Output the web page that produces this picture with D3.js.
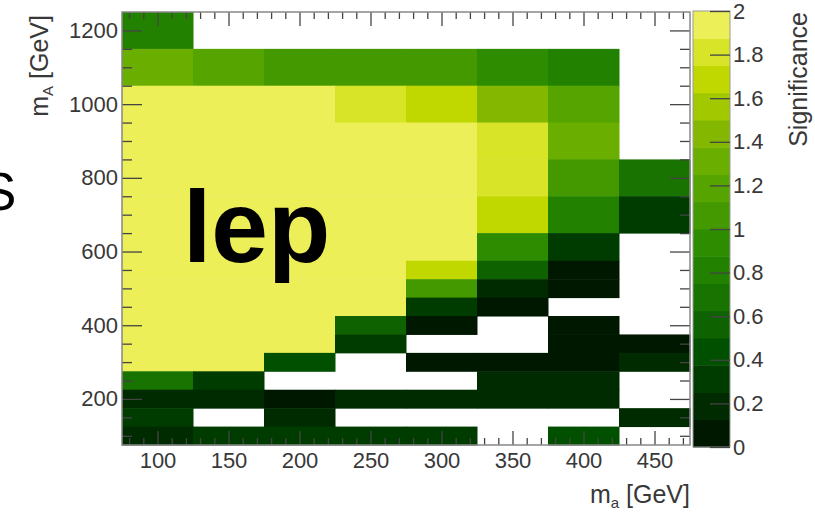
<!DOCTYPE html>
<html>
<head>
<meta charset="utf-8">
<script src="https://cdn.jsdelivr.net/npm/d3@7"></script>
<style>
  body { margin: 0; background: #fff; }
  svg { display: block; font-family: "Liberation Sans", Arial, Helvetica, sans-serif; }
  .ax text { fill: #383838; font-size: 22px; }
  .ax path { display: none; }
  .ax line { stroke: #444; stroke-width: 1.3; }
</style>
</head>
<body>
<div id="chart"></div>
<script>
// m_a columns (GeV) and their bin edges
const ma = [100, 150, 200, 250, 300, 350, 400, 450];
const maEdges = [75, 125, 175, 225, 275, 325, 375, 425, 475];
// m_A rows, top to bottom, and their edges
const mA = [1200, 1100, 1000, 900, 800, 700, 600, 550, 500, 450, 400, 350, 300, 250, 200, 150, 100];
const mAEdges = [1250, 1150, 1050, 950, 850, 750, 650, 575, 525, 475, 425, 375, 325, 275, 225, 175, 125, 75];

// significance per row (null = empty cell)
const sig = [
  [0.81, null, null, null, null, null, null, null],
  [1.33, 1.19, 1.06, 1.06, 1.06, 0.94, 0.81, null],
  [2.0, 2.0, 2.0, 1.81, 1.69, 1.44, 1.19, null],
  [2.0, 2.0, 2.0, 2.0, 2.0, 1.81, 1.33, null],
  [2.0, 2.0, 2.0, 2.0, 2.0, 1.81, 1.06, 0.69],
  [2.0, 2.0, 2.0, 2.0, 2.0, 1.69, 0.81, 0.31],
  [2.0, 2.0, 2.0, 2.0, 2.0, 0.94, 0.31, null],
  [2.0, 2.0, 2.0, 2.0, 1.69, 0.6, 0.06, null],
  [2.0, 2.0, 2.0, 2.0, 1.06, 0.19, 0.06, null],
  [2.0, 2.0, 2.0, 2.0, 0.31, 0.06, null, null],
  [2.0, 2.0, 2.0, 0.56, 0.06, null, 0.06, null],
  [2.0, 2.0, 2.0, 0.31, null, null, 0.06, 0.06],
  [2.0, 2.0, 0.44, null, 0.06, 0.06, 0.06, 0.19],
  [0.69, 0.31, null, null, null, 0.19, 0.19, null],
  [0.19, 0.19, 0.06, 0.19, 0.19, 0.19, 0.19, null],
  [0.31, null, 0.19, null, null, null, null, 0.19],
  [0.19, 0.31, 0.31, 0.31, 0.31, null, 0.38, null]
];

const palette = ["#001800", "#002a00", "#003c00", "#005000", "#0f6200", "#187300", "#228200", "#2e8c00",
                 "#449800", "#56a400", "#6aae00", "#84b800", "#a2c800", "#c0d800", "#d8e428", "#ecef58"];
const zTicks = [0, 0.2, 0.4, 0.6, 0.8, 1, 1.2, 1.4, 1.6, 1.8, 2];
const xTicks = [100, 150, 200, 250, 300, 350, 400, 450];
const yTicks = [200, 400, 600, 800, 1000, 1200];

const W = 815, H = 515;
const L = 122, R = 690, T = 12, B = 445;

let svg = d3.select("#chart").append("svg").attr("width", W).attr("height", H);

let x = d3.scaleLinear().domain([75, 475]).range([L, R]);
let y = d3.scaleLinear().domain([75, 1250]).range([B, T]);
let color = d3.scaleQuantize().domain([0, 2]).range(palette);

// cells
let cells = [];
sig.forEach((row, i) => row.forEach((v, j) => {
    if (v !== null) cells.push({i, j, v});
}));
svg.append("g").selectAll("rect").data(cells).join("rect")
   .attr("x", d => x(maEdges[d.j]))
   .attr("y", d => y(mAEdges[d.i]))
   .attr("width", d => x(maEdges[d.j + 1]) - x(maEdges[d.j]) + 0.5)
   .attr("height", d => y(mAEdges[d.i + 1]) - y(mAEdges[d.i]) + 0.5)
   .attr("fill", d => color(Math.min(d.v, 1.999)));

// big overlay text from the slide
svg.append("text").attr("x", 183).attr("y", 262)
   .attr("font-size", 102).attr("font-weight", "bold").attr("fill", "#000")
   .text("lep");
svg.append("text").attr("x", -19).attr("y", 210)
   .attr("font-size", 53).attr("fill", "#000")
   .text("S");

// axes
let minorX = d3.range(80, 475, 10).filter(v => v % 50 !== 0);
let minorY = d3.range(100, 1250, 50).filter(v => v % 200 !== 0);

svg.append("g").attr("class", "ax").attr("transform", `translate(0,${B})`)
   .call(d3.axisBottom(x).tickValues(xTicks).tickSizeInner(-14).tickSizeOuter(0).tickPadding(7));
svg.append("g").attr("class", "ax").attr("transform", `translate(0,${B})`)
   .call(d3.axisBottom(x).tickValues(minorX).tickSizeInner(-7).tickSizeOuter(0).tickFormat(""));
svg.append("g").attr("class", "ax").attr("transform", `translate(0,${T})`)
   .call(d3.axisTop(x).tickValues(xTicks).tickSizeInner(-14).tickSizeOuter(0).tickFormat(""));
svg.append("g").attr("class", "ax").attr("transform", `translate(0,${T})`)
   .call(d3.axisTop(x).tickValues(minorX).tickSizeInner(-7).tickSizeOuter(0).tickFormat(""));

svg.append("g").attr("class", "ax").attr("transform", `translate(${L},0)`)
   .call(d3.axisLeft(y).tickValues(yTicks).tickSizeInner(-20).tickSizeOuter(0).tickPadding(4)
         .tickFormat(d3.format("d")));
svg.append("g").attr("class", "ax").attr("transform", `translate(${L},0)`)
   .call(d3.axisLeft(y).tickValues(minorY).tickSizeInner(-10).tickSizeOuter(0).tickFormat(""));
svg.append("g").attr("class", "ax").attr("transform", `translate(${R},0)`)
   .call(d3.axisRight(y).tickValues(yTicks).tickSizeInner(-20).tickSizeOuter(0).tickFormat(""));
svg.append("g").attr("class", "ax").attr("transform", `translate(${R},0)`)
   .call(d3.axisRight(y).tickValues(minorY).tickSizeInner(-10).tickSizeOuter(0).tickFormat(""));

svg.append("rect").attr("x", L).attr("y", T).attr("width", R - L).attr("height", B - T)
   .attr("fill", "none").attr("stroke", "#888").attr("stroke-width", 1.5);

// colour bar
const cbL = 693, cbR = 730, cbT = 11, cbB = 447;
let z = d3.scaleLinear().domain([0, 2]).range([cbB, cbT]);
svg.append("g").selectAll("rect").data(palette).join("rect")
   .attr("x", cbL)
   .attr("y", (c, k) => z((k + 1) * 2 / palette.length))
   .attr("width", cbR - cbL)
   .attr("height", (c, k) => z(k * 2 / palette.length) - z((k + 1) * 2 / palette.length) + 0.5)
   .attr("fill", c => c);
svg.append("rect").attr("x", cbL).attr("y", cbT).attr("width", cbR - cbL).attr("height", cbB - cbT)
   .attr("fill", "none").attr("stroke", "#999").attr("stroke-width", 1);
svg.append("g").attr("class", "ax").attr("transform", `translate(${cbR},0)`)
   .call(d3.axisRight(z).tickValues(zTicks).tickSizeInner(-20).tickSizeOuter(0).tickPadding(3)
         .tickFormat(d3.format("~g")));

// axis titles
let yt = svg.append("text").attr("transform", "translate(48,15) rotate(-90)")
   .attr("text-anchor", "end").attr("font-size", 25).attr("fill", "#383838");
yt.append("tspan").text("m");
yt.append("tspan").attr("font-size", 15).attr("dy", 5).text("A");
yt.append("tspan").attr("dy", -5).text(" [GeV]");

let xt = svg.append("text").attr("x", R).attr("y", 503)
   .attr("text-anchor", "end").attr("font-size", 25).attr("fill", "#383838");
xt.append("tspan").text("m");
xt.append("tspan").attr("font-size", 15).attr("dy", 5).text("a");
xt.append("tspan").attr("dy", -5).text(" [GeV]");

svg.append("text").attr("transform", "translate(807,12) rotate(-90)")
   .attr("text-anchor", "end").attr("font-size", 25).attr("fill", "#383838")
   .text("Significance");
</script>
</body>
</html>
